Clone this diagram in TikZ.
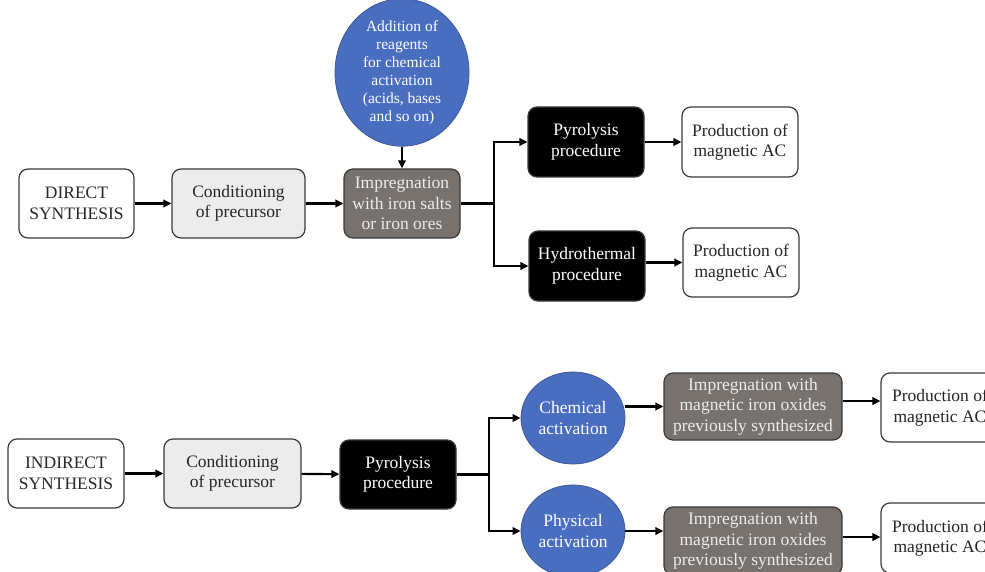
\documentclass[tikz,border=0pt]{standalone}
\usepackage{fontspec}
\setmainfont{Liberation Serif}
\usetikzlibrary{arrows.meta,shapes.geometric}
\definecolor{cblue}{HTML}{4A6EBF}
\definecolor{cgray}{HTML}{77726E}
\definecolor{clight}{HTML}{ECECEC}
\definecolor{cborder}{HTML}{3A3A3A}
\tikzset{
  box/.style={draw=cborder, line width=1.2pt, rounded corners=9pt, inner sep=0pt,
    align=center, font=\fontsize{17.5}{20.5}\selectfont, minimum height=69pt},
  whitebox/.style={box, fill=white, text=black!85},
  lightbox/.style={box, fill=clight, text=black!85},
  graybox/.style={box, fill=cgray, text=white!93!black},
  blackbox/.style={box, fill=black, text=white},
  bluecirc/.style={ellipse, draw=cblue!80!black, line width=0.8pt, fill=cblue, text=white,
    inner sep=0pt, align=center},
  conn/.style={line width=2.1pt, black},
  arr/.style={conn, -{Triangle[length=8pt,width=7.5pt]}},
}
\begin{document}
\begin{tikzpicture}[x=1pt,y=-1pt]
\clip (0,0) rectangle (985,572);
\fill[white] (0,0) rectangle (985,572);
% ---------- direct synthesis ----------
\node[whitebox, minimum width=115pt] (ds) at (76.5,203.5) {DIRECT\\SYNTHESIS};
\node[lightbox, minimum width=133pt] (cp1) at (238.5,203.5) {Conditioning\\of precursor};
\node[graybox, minimum width=116pt] (imp1) at (402,203.5) {Impregnation\\with iron salts\\or iron ores};
\node[bluecirc, minimum width=134pt, minimum height=121pt, font=\fontsize{15.5}{18}\selectfont] (add) at (402,72.5)
  {Addition of\\reagents\\for chemical\\activation\\(acids, bases\\and so on)};
\node[blackbox, minimum width=116pt, minimum height=70pt] (pyr1) at (586,142) {Pyrolysis\\procedure};
\node[whitebox, minimum width=116pt, minimum height=70pt] (prod1) at (740,142) {Production of\\magnetic AC};
\node[blackbox, minimum width=116pt, minimum height=70pt] (hyd) at (587,266) {Hydrothermal\\procedure};
\node[whitebox, minimum width=116pt] (prod2) at (741,262.5) {Production of\\magnetic AC};
\coordinate (b1) at (494,203.5);
\draw[arr] (ds) -- (cp1);
\draw[arr] (cp1) -- (imp1);
\draw[arr] (add) -- (imp1);
\draw[conn] (imp1.east) -- (b1);
\draw[arr] (b1) |- (pyr1.west);
\draw[arr] (b1) |- (hyd.west);
\draw[arr] (pyr1) -- (prod1);
\draw[arr] (hyd.east |- prod2.west) -- (prod2.west);
% ---------- indirect synthesis ----------
\node[whitebox, minimum width=116pt] (ids) at (66,473.5) {INDIRECT\\SYNTHESIS};
\node[lightbox, minimum width=137pt] (cp2) at (232.5,473.5) {Conditioning\\of precursor};
\node[blackbox, minimum width=116pt] (pyr2) at (398,474.5) {Pyrolysis\\procedure};
\node[bluecirc, minimum width=104pt, minimum height=92pt, font=\fontsize{17.5}{20.5}\selectfont] (chem) at (573,418) {Chemical\\activation};
\node[bluecirc, minimum width=104pt, minimum height=92pt, font=\fontsize{17.5}{20.5}\selectfont] (phys) at (573,531) {Physical\\activation};
\node[graybox, minimum width=178pt, minimum height=67pt] (impA) at (753,406.5) {Impregnation with\\magnetic iron oxides\\previously synthesized};
\node[graybox, minimum width=178pt, minimum height=68pt] (impB) at (753,541) {Impregnation with\\magnetic iron oxides\\previously synthesized};
\node[whitebox, minimum width=118pt] (prodA) at (940,407.5) {Production of\\magnetic AC};
\node[whitebox, minimum width=118pt, minimum height=70pt] (prodB) at (940,538) {Production of\\magnetic AC};
\coordinate (b2) at (489,474.5);
\draw[arr] (ids) -- (cp2);
\draw[arr] (cp2) -- (pyr2);
\draw[conn] (pyr2.east) -- (b2);
\draw[arr] (b2) |- (chem.west);
\draw[arr] (b2) |- (phys.west);
\draw[arr] (chem.east |- impA.west) -- (impA.west);
\draw[arr] (phys.east) -- (phys.east -| impB.west);
\draw[arr] (impA.east |- 0,401) -- (prodA.west |- 0,401);
\draw[arr] (impB.east |- 0,537) -- (prodB.west |- 0,537);
\end{tikzpicture}
\end{document}
